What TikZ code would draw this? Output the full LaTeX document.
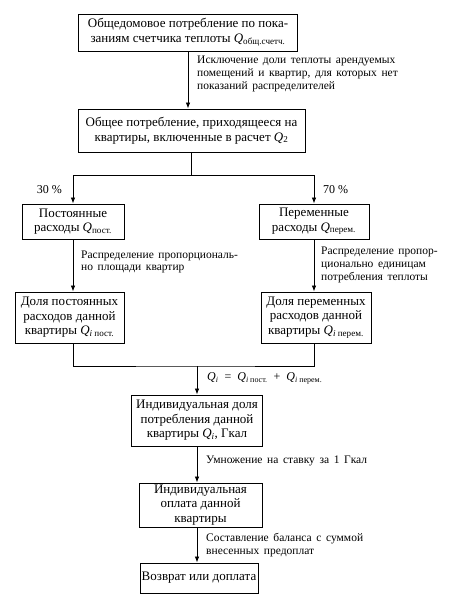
\documentclass[tikz,border=0pt]{standalone}
\usepackage{fontspec}
\setmainfont{Liberation Serif}
\usetikzlibrary{arrows.meta}
\newcommand{\Qsub}[1]{\textit{Q}\textsubscript{#1}}
\newcommand{\wide}{\spaceskip=4.6pt plus 1pt minus 0.5pt\relax}

\begin{document}
\begin{tikzpicture}[x=1pt, y=-1pt, >={Latex[length=6pt,width=4.5pt]},
  box/.style={draw, line width=0.9pt, inner sep=0pt, align=center, font=\fontsize{13}{14.5}\selectfont},
  note/.style={inner sep=0pt, align=left, font=\fontsize{11.5}{12.8}\selectfont\wide},
  link/.style={line width=0.8pt}]
  \useasboundingbox (0,0) rectangle (456,604);
  \node[box, minimum width=219pt, minimum height=37pt] (total) at (188,32.5)
    {Общедомовое потребление по пока-\\заниям счетчика теплоты \Qsub{общ.счетч.}};
  \node[box, minimum width=227pt, minimum height=43pt] (flat) at (191.5,130.5)
    {Общее потребление, приходящееся на\\квартиры, включенные в расчет \Qsub{2}};
  \node[box, minimum width=102pt, minimum height=35pt] (const) at (73,221.5)
    {Постоянные\\расходы \Qsub{пост.}};
  \node[box, minimum width=110pt, minimum height=35pt] (var) at (314,221.5)
    {Переменные\\расходы \Qsub{перем.}};
  \node[box, minimum width=109pt, minimum height=51pt] (constshare) at (69.5,317.5)
    {Доля постоянных\\расходов данной\\квартиры \Qsub{\textit{i} пост.}};
  \node[box, minimum width=110pt, minimum height=51pt] (varshare) at (316,317.5)
    {Доля переменных\\расходов данной\\квартиры \Qsub{\textit{i} перем.}};
  \node[box, minimum width=131pt, minimum height=51pt] (indiv) at (197,420.5)
    {Индивидуальная доля\\потребления данной\\квартиры \Qsub{\textit{i}}, Гкал};
  \node[box, minimum width=123pt, minimum height=44pt] (pay) at (200.5,505)
    {Индивидуальная\\оплата данной\\квартиры};
  \node[box, minimum width=118pt, minimum height=30pt] (result) at (199,578)
    {Возврат или доплата};

  \draw[link,->] (total.south) -- (total.south |- flat.north);
  \draw[link] (flat.south) -- ++(0,23) coordinate (fork);
  \draw[link,->] (fork) -| (const.north);
  \draw[link,->] (fork) -| (var.north);
  \draw[link,->] (const.south) -- (const.south |- constshare.north);
  \draw[link,->] (var.south) -- (var.south |- varshare.north);
  \coordinate (join) at (197,366);
  \draw[link] (constshare.south -| const.south) |- (join) -| (varshare.south -| var.south);
  \draw[link,->] (join) -- (indiv.north);
  \draw[link,->] (indiv.south) -- (indiv.south |- pay.north);
  \draw[link,->] (indiv.south |- pay.south) -- (indiv.south |- result.north);

  \node[note, anchor=west] (cutnote) at (197,74)
    {Исключение доли теплоты арендуемых\\помещений и квартир, для которых нет\\показаний распределителей};
  \node[note, anchor=east, font=\fontsize{12}{14}\selectfont] (share30) at (62,190) {30 \%};
  \node[note, anchor=west, font=\fontsize{12}{14}\selectfont] (share70) at (323,190) {70 \%};
  \node[note, anchor=west] (areanote) at (81,262)
    {Распределение пропорциональ-\\но площади квартир};
  \node[note, anchor=west] (heatnote) at (321,265)
    {Распределение пропор-\\ционально единицам\\потребления теплоты};
  \node[note, anchor=west, font=\fontsize{12}{14}\selectfont] (sumnote) at (207,378)
    {\Qsub{\textit{i}}\enspace=\enspace\Qsub{\textit{i} пост.}\enspace+\enspace\Qsub{\textit{i} перем.}};
  \node[note, anchor=west] (ratenote) at (206,461) {Умножение на ставку за 1 Гкал};
  \node[note, anchor=west] (balnote) at (206,545)
    {Составление баланса с суммой\\внесенных предоплат};
\end{tikzpicture}
\end{document}
